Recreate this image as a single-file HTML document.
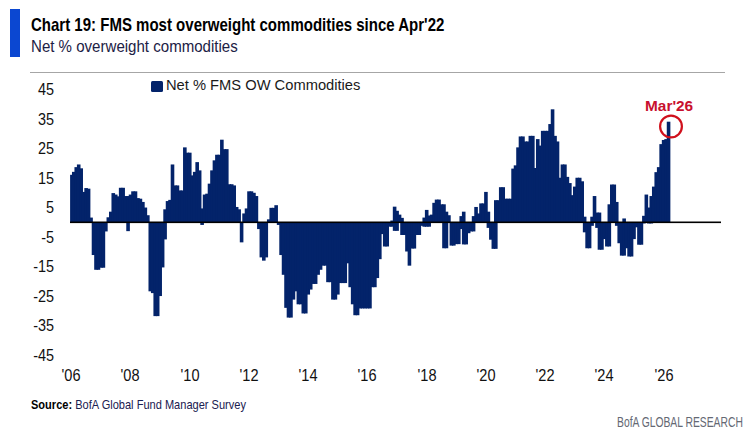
<!DOCTYPE html>
<html><head><meta charset="utf-8">
<style>
html,body{margin:0;padding:0;background:#fff;}
body{width:752px;height:437px;position:relative;overflow:hidden;font-family:"Liberation Sans",sans-serif;}
.t{position:absolute;white-space:nowrap;line-height:1;transform-origin:0 0;}
.t b{color:#000;}
#bluebar{position:absolute;left:10px;top:9px;width:10px;height:48px;background:#0b47d1;}
#rule{position:absolute;left:30px;top:72px;width:695px;height:1px;background:#a6a6a6;}
#legsq{position:absolute;left:151px;top:80.6px;width:11.6px;height:11.6px;background:#03236a;border-radius:1.5px;}
.yl{position:absolute;left:-46px;width:100px;text-align:right;font-size:16px;line-height:1;color:#111;transform:scaleX(0.9);transform-origin:100% 0;}
.xl{position:absolute;width:60px;text-align:center;font-size:16px;line-height:1;color:#111;transform:scaleX(0.91);transform-origin:50% 0;}
svg{position:absolute;left:0;top:0;}
#chart{position:absolute;left:0;top:0;width:752px;height:437px;}
</style></head><body>
<div id="bluebar"></div>
<div id="rule"></div>
<div id="legsq"></div>
<div class="yl" style="top:82.11px">45</div>
<div class="yl" style="top:111.61px">35</div>
<div class="yl" style="top:141.11px">25</div>
<div class="yl" style="top:170.61px">15</div>
<div class="yl" style="top:200.11px">5</div>
<div class="yl" style="top:229.61px">-5</div>
<div class="yl" style="top:259.11px">-15</div>
<div class="yl" style="top:288.61px">-25</div>
<div class="yl" style="top:318.11px">-35</div>
<div class="yl" style="top:347.61px">-45</div>
<div class="xl" style="left:41.0px;top:367.96px">'06</div>
<div class="xl" style="left:100.2px;top:367.96px">'08</div>
<div class="xl" style="left:159.5px;top:367.96px">'10</div>
<div class="xl" style="left:218.8px;top:367.96px">'12</div>
<div class="xl" style="left:278.0px;top:367.96px">'14</div>
<div class="xl" style="left:337.2px;top:367.96px">'16</div>
<div class="xl" style="left:396.5px;top:367.96px">'18</div>
<div class="xl" style="left:455.8px;top:367.96px">'20</div>
<div class="xl" style="left:515.0px;top:367.96px">'22</div>
<div class="xl" style="left:574.2px;top:367.96px">'24</div>
<div class="xl" style="left:633.5px;top:367.96px">'26</div>

<div id="chart"><svg width="752" height="437" viewBox="0 0 752 437">
<g fill="#03236a" >
<rect x="70.10" y="174.80" width="3.6" height="47.20"/>
<rect x="71.98" y="171.85" width="3.6" height="50.15"/>
<rect x="74.45" y="167.13" width="3.6" height="54.87"/>
<rect x="76.91" y="164.47" width="3.6" height="57.53"/>
<rect x="79.38" y="168.31" width="3.6" height="53.69"/>
<rect x="81.85" y="191.91" width="3.6" height="30.09"/>
<rect x="84.32" y="188.07" width="3.6" height="33.93"/>
<rect x="86.79" y="188.66" width="3.6" height="33.34"/>
<rect x="89.25" y="217.57" width="3.6" height="4.43"/>
<rect x="91.72" y="222.00" width="3.6" height="33.04"/>
<rect x="94.19" y="222.00" width="3.6" height="47.79"/>
<rect x="96.66" y="222.00" width="3.6" height="47.79"/>
<rect x="99.13" y="222.00" width="3.6" height="45.73"/>
<rect x="101.59" y="222.00" width="3.6" height="45.73"/>
<rect x="104.06" y="222.00" width="3.6" height="9.44"/>
<rect x="106.53" y="217.28" width="3.6" height="4.72"/>
<rect x="109.00" y="211.68" width="3.6" height="10.33"/>
<rect x="111.47" y="193.09" width="3.6" height="28.91"/>
<rect x="113.93" y="194.56" width="3.6" height="27.44"/>
<rect x="116.40" y="196.34" width="3.6" height="25.66"/>
<rect x="118.87" y="187.78" width="3.6" height="34.22"/>
<rect x="121.34" y="187.78" width="3.6" height="34.22"/>
<rect x="123.81" y="196.04" width="3.6" height="25.96"/>
<rect x="126.27" y="196.04" width="3.6" height="25.96"/>
<rect x="126.27" y="222.00" width="3.6" height="9.15"/>
<rect x="128.74" y="194.56" width="3.6" height="27.44"/>
<rect x="131.21" y="191.32" width="3.6" height="30.68"/>
<rect x="133.68" y="191.32" width="3.6" height="30.68"/>
<rect x="136.15" y="198.10" width="3.6" height="23.89"/>
<rect x="138.61" y="198.69" width="3.6" height="23.31"/>
<rect x="141.08" y="201.94" width="3.6" height="20.06"/>
<rect x="143.55" y="207.54" width="3.6" height="14.46"/>
<rect x="146.02" y="215.22" width="3.6" height="6.79"/>
<rect x="148.49" y="222.00" width="3.6" height="69.33"/>
<rect x="150.95" y="222.00" width="3.6" height="71.10"/>
<rect x="153.42" y="222.00" width="3.6" height="94.11"/>
<rect x="155.89" y="222.00" width="3.6" height="94.11"/>
<rect x="158.36" y="222.00" width="3.6" height="74.05"/>
<rect x="160.83" y="222.00" width="3.6" height="45.43"/>
<rect x="163.29" y="209.31" width="3.6" height="12.69"/>
<rect x="163.29" y="222.00" width="3.6" height="17.41"/>
<rect x="165.76" y="201.06" width="3.6" height="20.95"/>
<rect x="168.23" y="199.88" width="3.6" height="22.12"/>
<rect x="170.70" y="164.47" width="3.6" height="57.53"/>
<rect x="173.17" y="185.42" width="3.6" height="36.58"/>
<rect x="175.63" y="185.42" width="3.6" height="36.58"/>
<rect x="178.10" y="190.44" width="3.6" height="31.57"/>
<rect x="180.57" y="190.44" width="3.6" height="31.57"/>
<rect x="183.04" y="147.37" width="3.6" height="74.64"/>
<rect x="185.51" y="152.68" width="3.6" height="69.33"/>
<rect x="187.97" y="152.68" width="3.6" height="69.33"/>
<rect x="190.44" y="175.39" width="3.6" height="46.61"/>
<rect x="192.91" y="171.85" width="3.6" height="50.15"/>
<rect x="195.38" y="162.12" width="3.6" height="59.89"/>
<rect x="197.85" y="170.38" width="3.6" height="51.62"/>
<rect x="200.31" y="208.43" width="3.6" height="13.57"/>
<rect x="200.31" y="222.00" width="3.6" height="2.95"/>
<rect x="202.78" y="194.56" width="3.6" height="27.44"/>
<rect x="205.25" y="193.68" width="3.6" height="28.32"/>
<rect x="207.72" y="183.65" width="3.6" height="38.35"/>
<rect x="210.19" y="170.38" width="3.6" height="51.62"/>
<rect x="212.65" y="160.34" width="3.6" height="61.66"/>
<rect x="215.12" y="154.74" width="3.6" height="67.26"/>
<rect x="217.59" y="154.74" width="3.6" height="67.26"/>
<rect x="220.06" y="139.69" width="3.6" height="82.31"/>
<rect x="222.53" y="149.13" width="3.6" height="72.87"/>
<rect x="224.99" y="149.13" width="3.6" height="72.87"/>
<rect x="227.46" y="184.24" width="3.6" height="37.76"/>
<rect x="229.93" y="184.24" width="3.6" height="37.76"/>
<rect x="232.40" y="185.42" width="3.6" height="36.58"/>
<rect x="234.87" y="206.96" width="3.6" height="15.04"/>
<rect x="237.33" y="209.31" width="3.6" height="12.69"/>
<rect x="239.80" y="222.00" width="3.6" height="20.36"/>
<rect x="242.27" y="213.44" width="3.6" height="8.55"/>
<rect x="244.74" y="208.43" width="3.6" height="13.57"/>
<rect x="247.21" y="191.32" width="3.6" height="30.68"/>
<rect x="249.67" y="191.32" width="3.6" height="30.68"/>
<rect x="252.14" y="192.79" width="3.6" height="29.21"/>
<rect x="254.61" y="196.04" width="3.6" height="25.96"/>
<rect x="257.08" y="222.00" width="3.6" height="7.08"/>
<rect x="259.55" y="222.00" width="3.6" height="35.40"/>
<rect x="262.01" y="222.00" width="3.6" height="38.65"/>
<rect x="264.48" y="222.00" width="3.6" height="35.40"/>
<rect x="266.95" y="219.34" width="3.6" height="2.66"/>
<rect x="269.42" y="207.84" width="3.6" height="14.16"/>
<rect x="271.89" y="207.84" width="3.6" height="14.16"/>
<rect x="274.35" y="205.19" width="3.6" height="16.82"/>
<rect x="276.82" y="222.00" width="3.6" height="2.95"/>
<rect x="279.29" y="222.00" width="3.6" height="33.04"/>
<rect x="281.76" y="222.00" width="3.6" height="52.80"/>
<rect x="284.23" y="222.00" width="3.6" height="85.85"/>
<rect x="286.69" y="222.00" width="3.6" height="95.58"/>
<rect x="289.16" y="222.00" width="3.6" height="95.58"/>
<rect x="291.63" y="222.00" width="3.6" height="77.59"/>
<rect x="294.10" y="222.00" width="3.6" height="69.33"/>
<rect x="296.57" y="222.00" width="3.6" height="82.31"/>
<rect x="299.03" y="222.00" width="3.6" height="82.31"/>
<rect x="301.50" y="222.00" width="3.6" height="91.45"/>
<rect x="303.97" y="222.00" width="3.6" height="91.45"/>
<rect x="306.44" y="222.00" width="3.6" height="72.57"/>
<rect x="308.91" y="222.00" width="3.6" height="67.56"/>
<rect x="311.37" y="222.00" width="3.6" height="61.95"/>
<rect x="313.84" y="222.00" width="3.6" height="61.95"/>
<rect x="316.31" y="222.00" width="3.6" height="52.80"/>
<rect x="318.78" y="222.00" width="3.6" height="47.79"/>
<rect x="321.25" y="222.00" width="3.6" height="43.66"/>
<rect x="323.71" y="222.00" width="3.6" height="43.66"/>
<rect x="326.18" y="222.00" width="3.6" height="60.18"/>
<rect x="328.65" y="222.00" width="3.6" height="60.18"/>
<rect x="331.12" y="222.00" width="3.6" height="77.59"/>
<rect x="333.59" y="222.00" width="3.6" height="77.59"/>
<rect x="336.05" y="222.00" width="3.6" height="72.57"/>
<rect x="338.52" y="222.00" width="3.6" height="61.07"/>
<rect x="340.99" y="222.00" width="3.6" height="61.07"/>
<rect x="343.46" y="222.00" width="3.6" height="61.07"/>
<rect x="345.93" y="222.00" width="3.6" height="41.30"/>
<rect x="348.39" y="222.00" width="3.6" height="65.20"/>
<rect x="350.86" y="222.00" width="3.6" height="82.31"/>
<rect x="353.33" y="222.00" width="3.6" height="93.22"/>
<rect x="355.80" y="222.00" width="3.6" height="93.22"/>
<rect x="358.27" y="222.00" width="3.6" height="86.44"/>
<rect x="360.73" y="222.00" width="3.6" height="86.44"/>
<rect x="363.20" y="222.00" width="3.6" height="86.44"/>
<rect x="365.67" y="222.00" width="3.6" height="86.44"/>
<rect x="368.14" y="222.00" width="3.6" height="86.44"/>
<rect x="370.61" y="222.00" width="3.6" height="65.20"/>
<rect x="373.07" y="222.00" width="3.6" height="65.20"/>
<rect x="375.54" y="222.00" width="3.6" height="56.05"/>
<rect x="378.01" y="222.00" width="3.6" height="37.17"/>
<rect x="380.48" y="222.00" width="3.6" height="12.09"/>
<rect x="382.95" y="222.00" width="3.6" height="24.49"/>
<rect x="385.41" y="222.00" width="3.6" height="24.49"/>
<rect x="387.88" y="222.00" width="3.6" height="4.72"/>
<rect x="390.35" y="220.53" width="3.6" height="1.48"/>
<rect x="390.35" y="222.00" width="3.6" height="4.72"/>
<rect x="392.82" y="206.66" width="3.6" height="15.34"/>
<rect x="392.82" y="222.00" width="3.6" height="8.85"/>
<rect x="395.29" y="210.79" width="3.6" height="11.21"/>
<rect x="395.29" y="222.00" width="3.6" height="8.85"/>
<rect x="397.75" y="214.62" width="3.6" height="7.38"/>
<rect x="400.22" y="217.87" width="3.6" height="4.13"/>
<rect x="400.22" y="222.00" width="3.6" height="12.98"/>
<rect x="402.69" y="222.00" width="3.6" height="12.98"/>
<rect x="405.16" y="222.00" width="3.6" height="29.50"/>
<rect x="407.63" y="222.00" width="3.6" height="43.66"/>
<rect x="410.09" y="222.00" width="3.6" height="26.55"/>
<rect x="412.56" y="222.00" width="3.6" height="26.55"/>
<rect x="415.03" y="222.00" width="3.6" height="12.98"/>
<rect x="417.50" y="222.00" width="3.6" height="12.98"/>
<rect x="419.97" y="222.00" width="3.6" height="3.84"/>
<rect x="422.43" y="217.57" width="3.6" height="4.43"/>
<rect x="422.43" y="222.00" width="3.6" height="4.72"/>
<rect x="424.90" y="209.91" width="3.6" height="12.09"/>
<rect x="424.90" y="222.00" width="3.6" height="4.72"/>
<rect x="427.37" y="215.51" width="3.6" height="6.49"/>
<rect x="427.37" y="222.00" width="3.6" height="4.72"/>
<rect x="429.84" y="214.62" width="3.6" height="7.38"/>
<rect x="432.31" y="202.82" width="3.6" height="19.18"/>
<rect x="434.77" y="199.58" width="3.6" height="22.42"/>
<rect x="437.24" y="199.58" width="3.6" height="22.42"/>
<rect x="439.71" y="204.30" width="3.6" height="17.70"/>
<rect x="442.18" y="204.30" width="3.6" height="17.70"/>
<rect x="442.18" y="222.00" width="3.6" height="26.26"/>
<rect x="444.65" y="211.68" width="3.6" height="10.33"/>
<rect x="444.65" y="222.00" width="3.6" height="26.26"/>
<rect x="447.11" y="215.22" width="3.6" height="6.79"/>
<rect x="449.58" y="222.00" width="3.6" height="23.60"/>
<rect x="452.05" y="222.00" width="3.6" height="23.60"/>
<rect x="454.52" y="222.00" width="3.6" height="22.12"/>
<rect x="456.99" y="222.00" width="3.6" height="22.12"/>
<rect x="459.45" y="216.10" width="3.6" height="5.90"/>
<rect x="459.45" y="222.00" width="3.6" height="7.08"/>
<rect x="461.92" y="211.68" width="3.6" height="10.33"/>
<rect x="461.92" y="222.00" width="3.6" height="22.42"/>
<rect x="464.39" y="222.00" width="3.6" height="22.42"/>
<rect x="466.86" y="222.00" width="3.6" height="11.21"/>
<rect x="469.33" y="222.00" width="3.6" height="9.44"/>
<rect x="471.79" y="216.10" width="3.6" height="5.90"/>
<rect x="471.79" y="222.00" width="3.6" height="9.44"/>
<rect x="474.26" y="206.96" width="3.6" height="15.04"/>
<rect x="476.73" y="213.44" width="3.6" height="8.55"/>
<rect x="479.20" y="203.41" width="3.6" height="18.59"/>
<rect x="481.67" y="203.41" width="3.6" height="18.59"/>
<rect x="484.13" y="191.91" width="3.6" height="30.09"/>
<rect x="486.60" y="211.68" width="3.6" height="10.33"/>
<rect x="486.60" y="222.00" width="3.6" height="5.90"/>
<rect x="489.07" y="222.00" width="3.6" height="17.70"/>
<rect x="491.54" y="222.00" width="3.6" height="26.84"/>
<rect x="494.01" y="200.17" width="3.6" height="21.83"/>
<rect x="494.01" y="222.00" width="3.6" height="26.84"/>
<rect x="496.47" y="200.17" width="3.6" height="21.83"/>
<rect x="498.94" y="187.19" width="3.6" height="34.81"/>
<rect x="501.41" y="187.19" width="3.6" height="34.81"/>
<rect x="503.88" y="198.69" width="3.6" height="23.31"/>
<rect x="506.35" y="198.69" width="3.6" height="23.31"/>
<rect x="508.81" y="198.69" width="3.6" height="23.31"/>
<rect x="511.28" y="168.60" width="3.6" height="53.40"/>
<rect x="513.75" y="165.36" width="3.6" height="56.64"/>
<rect x="516.22" y="147.37" width="3.6" height="74.64"/>
<rect x="518.69" y="136.45" width="3.6" height="85.55"/>
<rect x="521.15" y="136.45" width="3.6" height="85.55"/>
<rect x="523.62" y="141.46" width="3.6" height="80.54"/>
<rect x="526.09" y="141.46" width="3.6" height="80.54"/>
<rect x="528.56" y="135.86" width="3.6" height="86.14"/>
<rect x="531.03" y="135.86" width="3.6" height="86.14"/>
<rect x="533.49" y="168.01" width="3.6" height="53.99"/>
<rect x="535.96" y="139.10" width="3.6" height="82.90"/>
<rect x="538.43" y="145.59" width="3.6" height="76.41"/>
<rect x="540.90" y="130.84" width="3.6" height="91.16"/>
<rect x="543.37" y="130.84" width="3.6" height="91.16"/>
<rect x="545.83" y="130.84" width="3.6" height="91.16"/>
<rect x="548.30" y="124.06" width="3.6" height="97.94"/>
<rect x="550.77" y="109.31" width="3.6" height="112.69"/>
<rect x="553.24" y="135.86" width="3.6" height="86.14"/>
<rect x="555.71" y="141.46" width="3.6" height="80.54"/>
<rect x="558.17" y="177.75" width="3.6" height="44.25"/>
<rect x="560.64" y="164.47" width="3.6" height="57.53"/>
<rect x="563.11" y="164.47" width="3.6" height="57.53"/>
<rect x="565.58" y="176.87" width="3.6" height="45.14"/>
<rect x="568.05" y="183.06" width="3.6" height="38.94"/>
<rect x="570.51" y="195.16" width="3.6" height="26.84"/>
<rect x="572.98" y="186.60" width="3.6" height="35.40"/>
<rect x="575.45" y="177.75" width="3.6" height="44.25"/>
<rect x="577.92" y="177.75" width="3.6" height="44.25"/>
<rect x="580.39" y="181.29" width="3.6" height="40.71"/>
<rect x="582.85" y="216.69" width="3.6" height="5.31"/>
<rect x="582.85" y="222.00" width="3.6" height="10.33"/>
<rect x="585.32" y="222.00" width="3.6" height="26.26"/>
<rect x="587.79" y="222.00" width="3.6" height="26.26"/>
<rect x="590.26" y="216.69" width="3.6" height="5.31"/>
<rect x="590.26" y="222.00" width="3.6" height="3.84"/>
<rect x="592.73" y="196.04" width="3.6" height="25.96"/>
<rect x="595.19" y="212.56" width="3.6" height="9.44"/>
<rect x="595.19" y="222.00" width="3.6" height="5.90"/>
<rect x="597.66" y="212.56" width="3.6" height="9.44"/>
<rect x="597.66" y="222.00" width="3.6" height="27.73"/>
<rect x="600.13" y="222.00" width="3.6" height="27.73"/>
<rect x="602.60" y="222.00" width="3.6" height="17.11"/>
<rect x="605.07" y="222.00" width="3.6" height="24.49"/>
<rect x="607.53" y="204.30" width="3.6" height="17.70"/>
<rect x="607.53" y="222.00" width="3.6" height="24.49"/>
<rect x="610.00" y="184.53" width="3.6" height="37.47"/>
<rect x="612.47" y="184.53" width="3.6" height="37.47"/>
<rect x="614.94" y="201.94" width="3.6" height="20.06"/>
<rect x="614.94" y="222.00" width="3.6" height="3.84"/>
<rect x="617.41" y="222.00" width="3.6" height="21.24"/>
<rect x="619.87" y="222.00" width="3.6" height="33.63"/>
<rect x="622.34" y="218.46" width="3.6" height="3.54"/>
<rect x="622.34" y="222.00" width="3.6" height="33.63"/>
<rect x="624.81" y="222.00" width="3.6" height="26.26"/>
<rect x="627.28" y="222.00" width="3.6" height="34.52"/>
<rect x="629.75" y="222.00" width="3.6" height="34.52"/>
<rect x="632.21" y="222.00" width="3.6" height="17.11"/>
<rect x="634.68" y="222.00" width="3.6" height="5.31"/>
<rect x="637.15" y="222.00" width="3.6" height="22.72"/>
<rect x="639.62" y="222.00" width="3.6" height="22.72"/>
<rect x="642.09" y="215.81" width="3.6" height="6.20"/>
<rect x="642.09" y="222.00" width="3.6" height="1.48"/>
<rect x="644.55" y="194.56" width="3.6" height="27.44"/>
<rect x="647.02" y="207.54" width="3.6" height="14.46"/>
<rect x="647.02" y="222.00" width="3.6" height="1.48"/>
<rect x="649.49" y="196.04" width="3.6" height="25.96"/>
<rect x="649.49" y="222.00" width="3.6" height="1.48"/>
<rect x="651.96" y="186.60" width="3.6" height="35.40"/>
<rect x="654.43" y="172.15" width="3.6" height="49.85"/>
<rect x="656.89" y="167.13" width="3.6" height="54.87"/>
<rect x="659.36" y="144.12" width="3.6" height="77.88"/>
<rect x="661.83" y="139.99" width="3.6" height="82.01"/>
<rect x="664.30" y="139.10" width="3.6" height="82.90"/>
<rect x="666.77" y="121.70" width="3.6" height="100.30"/>
</g>
<rect x="70" y="221.5" width="651" height="1.6" fill="#000"/>
<circle cx="671" cy="126.5" r="10.9" fill="none" stroke="#d0101c" stroke-width="2.2"/>
</svg></div>
<div class="t" id="title" style="left:30.6px;top:14.92px;font-size:19px;font-weight:bold;color:#000;transform:scaleX(0.79);">Chart 19: FMS most overweight commodities since Apr'22</div>
<div class="t" id="sub" style="left:31px;top:38.21px;font-size:17px;font-weight:normal;color:#1c2145;transform:scaleX(0.886);">Net % overweight commodities</div>
<div class="t" id="legtx" style="left:166.3px;top:78.15px;font-size:14px;font-weight:normal;color:#1a1a1a;transform:scaleX(1.05);">Net % FMS OW Commodities</div>
<div class="t" id="mar" style="left:644.5px;top:98.95px;font-size:14px;font-weight:bold;color:#c8102e;transform:scaleX(1.1);">Mar'26</div>
<div class="t" id="src" style="left:30.9px;top:397.80px;font-size:13px;font-weight:normal;color:#1a2050;transform:scaleX(0.85);"><b>Source:</b> BofA Global Fund Manager Survey</div>
<div class="t" id="brand" style="left:617.2px;top:414.93px;font-size:14.5px;font-weight:normal;color:#646873;transform:scaleX(0.712);">BofA GLOBAL RESEARCH</div>

</body></html>
